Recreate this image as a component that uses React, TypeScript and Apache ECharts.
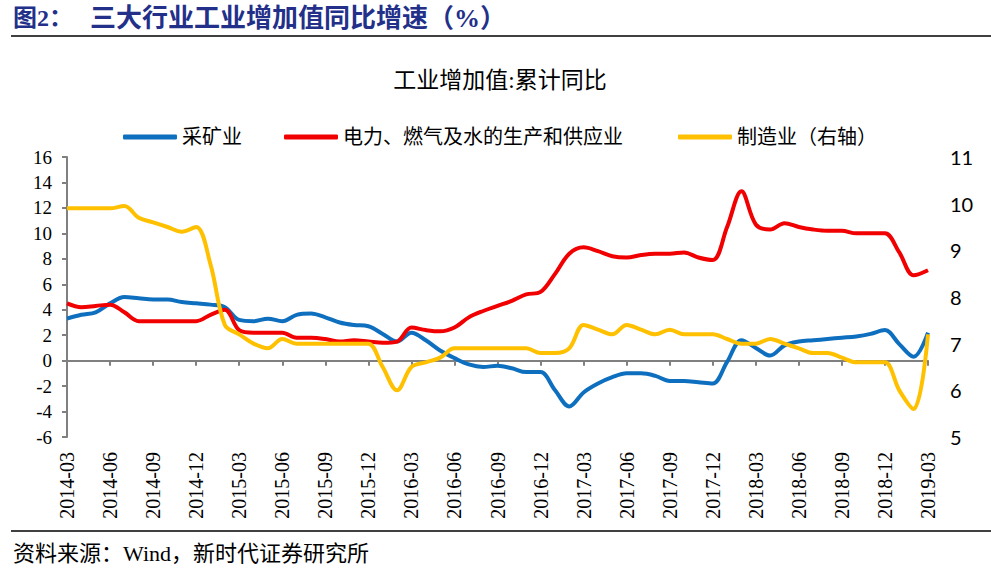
import React, { useEffect, useRef } from "react";
import * as echarts from "echarts";

const months = [
  "2014-03", "2014-04", "2014-05", "2014-06", "2014-07", "2014-08", "2014-09", "2014-10", "2014-11", "2014-12",
  "2015-01", "2015-02", "2015-03", "2015-04", "2015-05", "2015-06", "2015-07", "2015-08", "2015-09", "2015-10", "2015-11", "2015-12",
  "2016-01", "2016-02", "2016-03", "2016-04", "2016-05", "2016-06", "2016-07", "2016-08", "2016-09", "2016-10", "2016-11", "2016-12",
  "2017-01", "2017-02", "2017-03", "2017-04", "2017-05", "2017-06", "2017-07", "2017-08", "2017-09", "2017-10", "2017-11", "2017-12",
  "2018-01", "2018-02", "2018-03", "2018-04", "2018-05", "2018-06", "2018-07", "2018-08", "2018-09", "2018-10", "2018-11", "2018-12",
  "2019-01", "2019-02", "2019-03",
];

// 采矿业 (left axis)
const mining = [
  3.3, 3.6, 3.8, 4.5, 5.0, 4.9, 4.8, 4.8, 4.6, 4.5,
  4.4, 4.2, 3.2, 3.1, 3.3, 3.1, 3.6, 3.7, 3.4, 3.0, 2.8, 2.7,
  2.1, 1.5, 2.2, 1.6, 0.8, 0.2, -0.3, -0.5, -0.4, -0.6, -0.9, -0.9,
  -2.3, -3.6, -2.5, -1.8, -1.3, -1.0, -1.0, -1.2, -1.6, -1.6, -1.7, -1.8,
  -0.1, 1.6, 1.0, 0.4, 1.2, 1.5, 1.6, 1.7, 1.8, 1.9, 2.1, 2.4,
  1.3, 0.3, 2.2,
];

// 电力、燃气及水的生产和供应业 (left axis)
const utilities = [
  4.5, 4.2, 4.3, 4.4, 3.8, 3.1, 3.1, 3.1, 3.1, 3.1,
  3.6, 4.0, 2.4, 2.2, 2.2, 2.2, 1.8, 1.8, 1.7, 1.5, 1.6, 1.5,
  1.4, 1.5, 2.6, 2.4, 2.3, 2.6, 3.4, 3.9, 4.3, 4.7, 5.2, 5.4,
  6.8, 8.4, 8.9, 8.6, 8.2, 8.1, 8.3, 8.4, 8.4, 8.5, 8.1, 7.9,
  10.5, 13.3, 10.7, 10.3, 10.8, 10.5, 10.3, 10.2, 10.2, 10.0, 10.0, 10.0,
  8.5, 6.7, 7.1,
];

// 制造业 (right axis)
const manufacturing = [
  9.9, 9.9, 9.9, 9.9, 9.95, 9.7, 9.6, 9.5, 9.4, 9.5,
  8.7, 7.4, 7.2, 7.0, 6.9, 7.1, 7.0, 7.0, 7.0, 7.0, 7.0, 7.0,
  6.5, 6.0, 6.5, 6.6, 6.7, 6.9, 6.9, 6.9, 6.9, 6.9, 6.9, 6.8,
  6.8, 6.9, 7.4, 7.3, 7.2, 7.4, 7.3, 7.2, 7.3, 7.2, 7.2, 7.2,
  7.1, 7.0, 7.0, 7.1, 7.0, 6.9, 6.8, 6.8, 6.7, 6.6, 6.6, 6.6,
  6.0, 5.6, 7.2,
];

const seriesNames = ["采矿业", "电力、燃气及水的生产和供应业", "制造业（右轴）"];

const cjk = "'Liberation Serif', 'Noto Sans CJK SC', serif";
const axisGray = "#808080";

export default function App() {
  const chartRef = useRef<HTMLDivElement>(null);

  useEffect(() => {
    if (!chartRef.current) return;
    const chart = echarts.init(chartRef.current, null, { renderer: "svg" });

    const legendBase = {
      top: 127,
      padding: 0,
      icon: "roundRect",
      itemWidth: 54,
      itemHeight: 5,
      itemGap: 6,
      textStyle: { fontSize: 20, fontFamily: cjk, color: "#000" },
    };

    const option: echarts.EChartsOption = {
      animation: false,
      backgroundColor: "#fff",
      graphic: [
        {
          type: "text",
          x: 13,
          y: 18,
          style: {
            text: "图2：",
            fontSize: 24,
            fontWeight: "bold",
            fontFamily: cjk,
            fill: "#23308A",
            textVerticalAlign: "middle",
          },
        },
        {
          type: "text",
          x: 90,
          y: 18,
          style: {
            text: "三大行业工业增加值同比增速（%）",
            fontSize: 26,
            fontWeight: "bold",
            fontFamily: cjk,
            fill: "#23308A",
            textVerticalAlign: "middle",
          },
        },
        {
          type: "line",
          shape: { x1: 11, y1: 36, x2: 991, y2: 36 },
          style: { stroke: "#000", lineWidth: 1.5 },
        },
        {
          type: "text",
          x: 500,
          y: 80,
          style: {
            text: "工业增加值:累计同比",
            fontSize: 23,
            fontFamily: cjk,
            fill: "#000",
            textAlign: "center",
            textVerticalAlign: "middle",
          },
        },
        {
          type: "line",
          shape: { x1: 11, y1: 531, x2: 991, y2: 531 },
          style: { stroke: "#000", lineWidth: 1.5 },
        },
        {
          type: "text",
          x: 13,
          y: 553,
          style: {
            text: "资料来源：Wind，新时代证券研究所",
            fontSize: 22,
            fontFamily: cjk,
            fill: "#000",
            textVerticalAlign: "middle",
          },
        },
      ],
      legend: [
        { ...legendBase, left: 123, data: [seriesNames[0]] },
        { ...legendBase, left: 284, data: [seriesNames[1]] },
        { ...legendBase, left: 678, data: [seriesNames[2]] },
      ],
      grid: {
        left: 67,
        right: 63,
        top: 157,
        bottom: 136,
        outerBoundsMode: "none",
      } as any,
      xAxis: [
        {
          // labels along the bottom of the plot
          type: "category",
          data: months,
          boundaryGap: false,
          position: "bottom",
          axisLine: { show: false, onZero: false },
          axisTick: { show: false },
          axisLabel: {
            interval: 2,
            rotate: 90,
            margin: 15,
            fontSize: 20,
            fontFamily: "'Liberation Serif', serif",
            color: "#000",
          },
          splitLine: { show: false },
        },
        {
          // zero line with ticks
          type: "category",
          data: months,
          boundaryGap: false,
          position: "bottom",
          axisLine: { show: true, onZero: true, onZeroAxisIndex: 0, lineStyle: { color: axisGray, width: 2 } },
          axisTick: { show: true, interval: 2, length: 5, lineStyle: { color: axisGray, width: 2 } },
          axisLabel: { show: false },
          splitLine: { show: false },
        },
      ],
      yAxis: [
        {
          type: "value",
          min: -6,
          max: 16,
          interval: 2,
          axisLine: { show: true, lineStyle: { color: axisGray, width: 2 } },
          axisTick: { show: true, length: 5, lineStyle: { color: axisGray, width: 2 } },
          axisLabel: {
            margin: 15,
            fontSize: 19,
            fontFamily: "'Liberation Serif', serif",
            color: "#000",
          },
          splitLine: { show: false },
        },
        {
          type: "value",
          min: 5,
          max: 11,
          interval: 1,
          axisLine: { show: false },
          axisTick: { show: false },
          axisLabel: {
            margin: 22,
            fontSize: 20,
            fontFamily: "Lato, sans-serif",
            color: "#000",
          },
          splitLine: { show: false },
        },
      ],
      series: [
        {
          name: seriesNames[0],
          type: "line",
          data: mining,
          yAxisIndex: 0,
          smooth: 0.35,
          symbol: "none",
          color: "#0F6FBF",
          lineStyle: { width: 4, color: "#0F6FBF" },
        },
        {
          name: seriesNames[1],
          type: "line",
          data: utilities,
          yAxisIndex: 0,
          smooth: 0.35,
          symbol: "none",
          color: "#F00000",
          lineStyle: { width: 4, color: "#F00000" },
        },
        {
          name: seriesNames[2],
          type: "line",
          data: manufacturing,
          yAxisIndex: 1,
          smooth: 0.35,
          symbol: "none",
          color: "#FFC000",
          lineStyle: { width: 4, color: "#FFC000" },
        },
      ],
    };

    chart.setOption(option);

    return () => {
      chart.dispose();
    };
  }, []);

  return (
    <div
      ref={chartRef}
      style={{ position: "absolute", left: 0, top: 0, width: 991, height: 573 }}
    />
  );
}
